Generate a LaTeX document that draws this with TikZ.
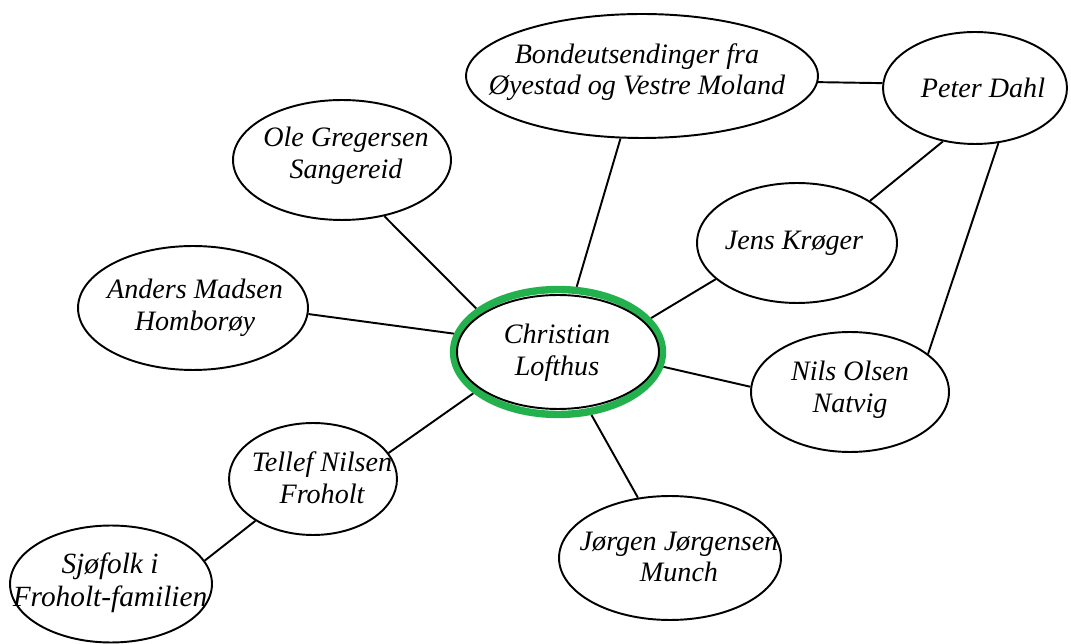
\documentclass[tikz,border=0pt]{standalone}
\usepackage{fontspec}
\setmainfont{Liberation Serif}
\usetikzlibrary{shapes.geometric,backgrounds}
\definecolor{cgreen}{RGB}{34,177,76}
\begin{document}
\begin{tikzpicture}[x=0.02cm,y=-0.02cm,
  bubble/.style={ellipse, draw=black, line width=1.1pt, fill=white, inner sep=0pt},
  ring/.style={ellipse, draw=cgreen, line width=4.2pt, fill=white, inner sep=0pt},
  txt/.style={align=center, font=\fontsize{16}{18}\selectfont\itshape, inner sep=0pt},
  link/.style={line width=1.1pt, draw=black}]
\useasboundingbox (0,0) rectangle (1071,644);

\node[bubble, minimum width=7.04cm, minimum height=2.48cm] (bonde) at (642,76) {};
\node[bubble, minimum width=3.68cm, minimum height=2.24cm] (peter) at (975,88) {};
\node[bubble, minimum width=4.36cm, minimum height=2.4cm] (ole) at (342,160) {};
\node[bubble, minimum width=4.0cm, minimum height=2.4cm] (jens) at (797,243) {};
\node[bubble, minimum width=4.6cm, minimum height=2.48cm] (anders) at (193,308) {};
\node[ring, minimum width=4.18cm, minimum height=2.5cm] (chr) at (558,352) {};
\node[bubble, minimum width=4.04cm, minimum height=2.28cm] (chrin) at (558,352) {};
\node[bubble, minimum width=3.96cm, minimum height=2.4cm] (nils) at (850,392) {};
\node[bubble, minimum width=3.36cm, minimum height=2.24cm] (tellef) at (313,479) {};
\node[bubble, minimum width=4.44cm, minimum height=2.48cm] (jorgen) at (670,558) {};
\node[bubble, minimum width=4.04cm, minimum height=2.34cm] (sjo) at (111,584) {};

\node[txt] (bondeT) at (637,72) {Bondeutsendinger fra\\Øyestad og Vestre Moland};
\node[txt] (peterT) at (983,88) {Peter Dahl};
\node[txt] (oleT) at (346,156) {Ole Gregersen\\Sangereid};
\node[txt] (jensT) at (794,243) {Jens Krøger};
\node[txt] (andersT) at (195,308) {Anders Madsen\\Homborøy};
\node[txt] (chrT) at (557,353) {Christian\\Lofthus};
\node[txt] (nilsT) at (850,390) {Nils Olsen\\Natvig};
\node[txt] (tellefT) at (322,478) {Tellef Nilsen\\Froholt};
\node[txt] (jorgenT) at (679,557) {Jørgen Jørgensen\\Munch};
\node[txt, font=\fontsize{16.7}{18.5}\selectfont\itshape] (sjoT) at (110,583) {Sjøfolk i\\Froholt-familien};

\begin{scope}[on background layer]
\draw[link] (bonde.-109) -- (chr.74.7);
\draw[link] (bonde.-2) -- (peter.177);
\draw[link] (peter.-121.5) -- (jens.30);
\draw[link] (peter.-67) -- (nils.26.6);
\draw[link] (ole.-53.3) -- (chr.152.9);
\draw[link] (anders.-3) -- (chr.170.6);
\draw[link] (jens.-156.6) -- (chr.20.7);
\draw[link] (nils.177) -- (chr.-8.7);
\draw[link] (tellef.19.8) -- (chr.-154.3);
\draw[link] (jorgen.118.4) -- (chr.-62.8);
\draw[link] (sjo.14.6) -- (tellef.-144);
\end{scope}
\end{tikzpicture}
\end{document}
